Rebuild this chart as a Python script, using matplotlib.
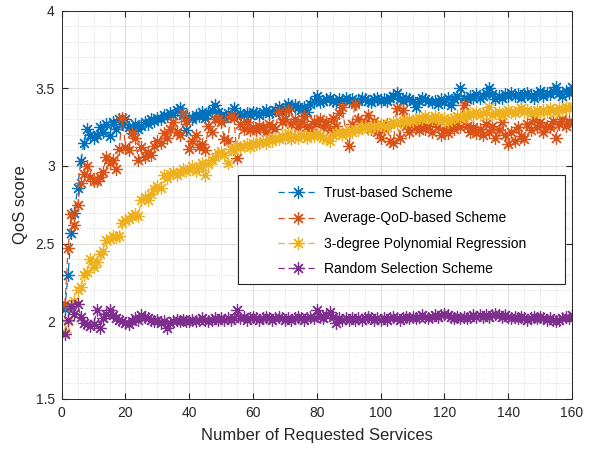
import matplotlib.pyplot as plt
from matplotlib.patches import Rectangle
from matplotlib.ticker import MultipleLocator, FuncFormatter

plt.rcParams['font.family'] = ['Liberation Sans', 'DejaVu Sans']

services = list(range(1, 161))

trust = [2.08, 2.30, 2.57, 2.70, 2.86, 3.03, 3.15, 3.24, 3.20, 3.18,
         3.20, 3.25, 3.22, 3.27, 3.19, 3.28, 3.24, 3.30, 3.27, 3.30,
         3.25, 3.23, 3.27, 3.24, 3.26, 3.28, 3.27, 3.30, 3.29, 3.31,
         3.30, 3.33, 3.32, 3.34, 3.33, 3.36, 3.37, 3.33, 3.23, 3.31,
         3.30, 3.33, 3.32, 3.35, 3.31, 3.34, 3.36, 3.39, 3.35, 3.32,
         3.31, 3.34, 3.33, 3.37, 3.32, 3.34, 3.33, 3.34, 3.33, 3.35,
         3.34, 3.33, 3.35, 3.36, 3.34, 3.35, 3.36, 3.38, 3.35, 3.37,
         3.40, 3.37, 3.39, 3.38, 3.36, 3.38, 3.35, 3.40, 3.42, 3.45,
         3.41, 3.42, 3.43, 3.44, 3.42, 3.41, 3.43, 3.42, 3.44, 3.42,
         3.43, 3.41, 3.42, 3.44, 3.43, 3.42, 3.41, 3.43, 3.44, 3.42,
         3.43, 3.42, 3.44, 3.45, 3.47, 3.43, 3.42, 3.44, 3.43, 3.42,
         3.38, 3.42, 3.44, 3.43, 3.42, 3.41, 3.42, 3.40, 3.43, 3.41,
         3.44, 3.39, 3.43, 3.45, 3.50, 3.44, 3.43, 3.45, 3.44, 3.46,
         3.44, 3.45, 3.47, 3.50, 3.46, 3.43, 3.45, 3.44, 3.46, 3.45,
         3.47, 3.45, 3.46, 3.44, 3.46, 3.47, 3.45, 3.44, 3.46, 3.48,
         3.45, 3.47, 3.46, 3.48, 3.51, 3.47, 3.45, 3.48, 3.47, 3.51]

avg_qod = [2.11, 2.47, 2.69, 2.62, 2.75, 2.89, 2.95, 3.00, 2.93, 2.90,
           2.90, 2.93, 2.96, 3.06, 3.02, 3.04, 2.98, 3.11, 3.31, 3.12,
           3.10, 3.21, 3.18, 3.04, 3.12, 3.06, 3.09, 3.07, 3.13, 3.16,
           3.15, 3.21, 3.18, 3.24, 3.28, 3.22, 3.20, 3.34, 3.29, 3.11,
           3.16, 3.20, 3.12, 3.14, 3.10, 3.26, 3.22, 3.30, 3.30, 3.28,
           3.17, 3.16, 3.32, 3.31, 3.05, 3.27, 3.24, 3.28, 3.23, 3.25,
           3.23, 3.26, 3.25, 3.22, 3.27, 3.25, 3.24, 3.35, 3.28, 3.30,
           3.36, 3.27, 3.30, 3.25, 3.28, 3.32, 3.26, 3.24, 3.29, 3.27,
           3.30, 3.25, 3.28, 3.23, 3.31, 3.26, 3.34, 3.38, 3.22, 3.13,
           3.27, 3.40, 3.30, 3.25, 3.28, 3.33, 3.24, 3.29, 3.22, 3.18,
           3.24, 3.27, 3.16, 3.15, 3.37, 3.18, 3.36, 3.26, 3.22, 3.28,
           3.25, 3.23, 3.27, 3.24, 3.26, 3.22, 3.29, 3.25, 3.20, 3.23,
           3.21, 3.26, 3.24, 3.28, 3.25, 3.39, 3.26, 3.22, 3.25, 3.21,
           3.24, 3.20, 3.27, 3.22, 3.26, 3.18, 3.23, 3.28, 3.20, 3.14,
           3.22, 3.16, 3.25, 3.19, 3.17, 3.27, 3.23, 3.30, 3.25, 3.28,
           3.22, 3.26, 3.25, 3.29, 3.18, 3.27, 3.30, 3.26, 3.29, 3.27]

poly3 = [1.93, 2.00, 2.10, 2.13, 2.20, 2.22, 2.30, 2.32, 2.40, 2.35,
         2.38, 2.43, 2.45, 2.52, 2.53, 2.55, 2.54, 2.55, 2.63, 2.65,
         2.66, 2.68, 2.69, 2.68, 2.78, 2.80, 2.78, 2.82, 2.85, 2.87,
         2.86, 2.94, 2.92, 2.95, 2.96, 2.94, 2.96, 2.98, 2.97, 2.98,
         3.00, 2.97, 2.99, 3.02, 2.94, 3.01, 3.04, 3.06, 3.08, 3.09,
         3.07, 3.02, 3.11, 3.10, 3.13, 3.12, 3.13, 3.14, 3.12, 3.15,
         3.14, 3.15, 3.16, 3.15, 3.17, 3.16, 3.18, 3.17, 3.19, 3.18,
         3.21, 3.17, 3.19, 3.18, 3.20, 3.19, 3.18, 3.20, 3.19, 3.21,
         3.20, 3.18, 3.17, 3.16, 3.20, 3.21, 3.22, 3.20, 3.21, 3.23,
         3.22, 3.24, 3.23, 3.25, 3.26, 3.24, 3.25, 3.26, 3.25, 3.27,
         3.26, 3.25, 3.27, 3.28, 3.27, 3.28, 3.29, 3.28, 3.30, 3.29,
         3.30, 3.31, 3.30, 3.32, 3.31, 3.30, 3.32, 3.31, 3.29, 3.31,
         3.28, 3.30, 3.31, 3.32, 3.31, 3.33, 3.32, 3.34, 3.33, 3.35,
         3.33, 3.34, 3.35, 3.38, 3.33, 3.34, 3.35, 3.33, 3.34, 3.36,
         3.35, 3.34, 3.36, 3.37, 3.35, 3.36, 3.34, 3.35, 3.36, 3.35,
         3.36, 3.35, 3.37, 3.36, 3.35, 3.37, 3.36, 3.38, 3.37, 3.38]

random_sel = [1.92, 2.01, 2.10, 2.05, 2.11, 2.03, 1.99, 1.98, 1.97, 1.98,
              2.07, 1.96, 2.02, 2.05, 2.07, 2.04, 2.02, 2.01, 2.00, 1.99,
              1.98, 2.00, 2.02, 2.01, 2.04, 2.03, 2.02, 2.01, 2.00, 2.01,
              1.99, 2.00, 1.96, 1.99, 2.00, 2.01, 2.00, 2.01, 2.00, 2.00,
              2.01, 2.00, 2.01, 2.02, 2.01, 2.00, 2.01, 2.02, 2.01, 2.02,
              2.01, 2.02, 2.01, 2.02, 2.07, 2.02, 2.03, 2.01, 2.02, 2.03,
              2.02, 2.01, 2.02, 2.03, 2.02, 2.01, 2.02, 2.03, 2.02, 2.01,
              2.02, 2.01, 2.02, 2.03, 2.02, 2.01, 2.02, 2.03, 2.02, 2.07,
              2.03, 2.02, 2.04, 2.06, 2.03, 1.99, 2.02, 2.01, 2.02, 2.01,
              2.02, 2.01, 2.02, 2.01, 2.02, 2.03, 2.02, 2.01, 2.02, 2.01,
              2.02, 2.01, 2.02, 2.03, 2.02, 2.01, 2.02, 2.03, 2.02, 2.03,
              2.02, 2.03, 2.04, 2.03, 2.02, 2.03, 2.04, 2.03, 2.04, 2.05,
              2.04, 2.03, 2.02, 2.03, 2.02, 2.03, 2.02, 2.03, 2.04, 2.03,
              2.04, 2.03, 2.04, 2.03, 2.04, 2.05, 2.04, 2.03, 2.04, 2.03,
              2.02, 2.03, 2.02, 2.03, 2.02, 2.01, 2.02, 2.03, 2.02, 2.03,
              2.02, 2.01, 2.02, 2.01, 2.00, 2.01, 2.02, 2.03, 2.02, 2.04]

labels = ['Trust-based Scheme', 'Average-QoD-based Scheme',
          '3-degree Polynomial Regression', 'Random Selection Scheme']
colors = ['#0072BD', '#D95319', '#EDB120', '#7E2F8E']

fig = plt.figure(figsize=(5.91, 4.51), dpi=100)
ax = fig.add_axes([0.1044, 0.1153, 0.8635, 0.8614])

lines = []
for series, color in zip([trust, avg_qod, poly3, random_sel], colors):
    ln, = ax.plot(services, series, linestyle='--', dashes=(5, 3), lw=0.9,
                  color=color, marker=(8, 2, 0), markersize=9, markeredgewidth=0.9)
    lines.append(ln)

ax.set_xlim(0, 160)
ax.set_ylim(1.5, 4)
ax.xaxis.set_major_locator(MultipleLocator(20))
ax.xaxis.set_minor_locator(MultipleLocator(5))
ax.yaxis.set_major_locator(MultipleLocator(0.5))
ax.yaxis.set_minor_locator(MultipleLocator(0.1))
ax.yaxis.set_major_formatter(FuncFormatter(lambda v, p: '%g' % v))

ax.grid(which='major', color='#dedede', linestyle='-', linewidth=0.8)
ax.grid(which='minor', color='#d2d2d2', linestyle=':', linewidth=0.6)
ax.set_axisbelow(True)

for s in ax.spines.values():
    s.set_color('#262626')
    s.set_linewidth(0.7)
ax.tick_params(which='both', direction='in', top=True, right=True,
               colors='#262626', labelsize=10)
ax.tick_params(which='major', length=4, pad=5)
ax.tick_params(which='minor', length=0)

ax.set_xlabel('Number of Requested Services', fontsize=12, color='#262626', labelpad=6)
ax.set_ylabel('QoS score', fontsize=12, color='#262626', labelpad=5)

# legend box drawn separately so the entries can sit like MATLAB's
ax.add_patch(Rectangle((0.3455, 0.296), 0.6408, 0.2806, transform=ax.transAxes,
                       facecolor='white', edgecolor='#262626', lw=0.8, zorder=4))
leg = ax.legend(lines, labels, loc='upper left', bbox_to_anchor=(0.424, 0.548),
                frameon=False, borderpad=0, borderaxespad=0, handlelength=2.9,
                handletextpad=0.4, labelspacing=0.82, fontsize=10)
leg.set_zorder(5)

fig.savefig('out.png', dpi=100)
